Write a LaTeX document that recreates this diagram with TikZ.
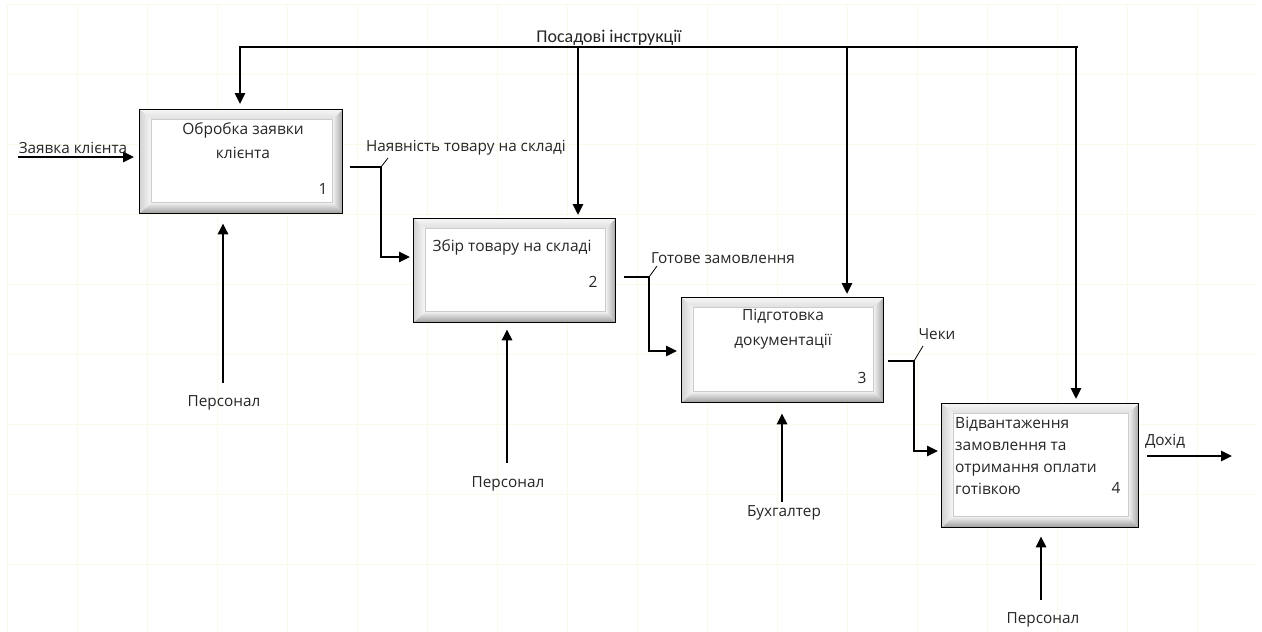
\documentclass[tikz,border=0pt]{standalone}
\usepackage{fontspec}
\setmainfont{Open Sans}
\newfontfamily\calib{Carlito}
\usetikzlibrary{arrows.meta,calc}
\definecolor{gridc}{RGB}{250,250,234}
\tikzset{
  gridline/.style={draw=gridc, line width=1pt},
  idefbox/.style={draw=black, line width=1.3pt, fill=white, anchor=north west, inner sep=0pt,
    path picture={
      \coordinate (sw) at (path picture bounding box.south west);
      \coordinate (se) at (path picture bounding box.south east);
      \coordinate (ne) at (path picture bounding box.north east);
      \coordinate (nw) at (path picture bounding box.north west);
      \coordinate (isw) at ([shift={(12pt,11pt)}]sw);
      \coordinate (ise) at ([shift={(-10pt,11pt)}]se);
      \coordinate (ine) at ([shift={(-10pt,-10pt)}]ne);
      \coordinate (inw) at ([shift={(12pt,-10pt)}]nw);
      \shade[top color=gray!8, bottom color=gray!25] (nw) -- (ne) -- (ine) -- (inw) -- cycle;
      \shade[left color=gray!35, right color=gray!5] (sw) -- (nw) -- (inw) -- (isw) -- cycle;
      \shade[left color=gray!10, right color=gray!70] (se) -- (ne) -- (ine) -- (ise) -- cycle;
      \shade[top color=gray!10, bottom color=gray!80] (sw) -- (se) -- (ise) -- (isw) -- cycle;
      \fill[white] (isw) rectangle (ine);
      \draw[gray!40, line width=0.7pt] (isw) rectangle (ine);
    }},
  btext/.style={font=\fontsize{15.5}{24}\selectfont, align=center, inner sep=0pt, text=black!85},
  lab/.style={font=\fontsize{15.3}{18}\selectfont, inner sep=0pt, text=black!85},
  num/.style={font=\fontsize{15.5}{18}\selectfont, inner sep=0pt, text=black!85},
  arr/.style={line width=2.6pt, -{Triangle[length=11pt,width=10pt]}},
  ctl/.style={line width=2pt},
  tick/.style={line width=0.8pt}
}
\begin{document}
\begin{tikzpicture}[x=1pt,y=-1pt]
\useasboundingbox (0,0) rectangle (1262,632);
\fill[white] (0,0) rectangle (1262,632);
% grid
\foreach \x in {7,77,...,1257} \draw[gridline] (\x,4) -- (\x,632);
\foreach \y in {4,74,...,630} \draw[gridline] (7,\y) -- (1257,\y);

% boxes
\node[idefbox, minimum width=203pt, minimum height=104pt] (b1) at (139,109) {};
\node[idefbox, minimum width=202pt, minimum height=104pt] (b2) at (413,218) {};
\node[idefbox, minimum width=202pt, minimum height=105pt] (b3) at (681,297) {};
\node[idefbox, minimum width=197pt, minimum height=124pt] (b4) at (941,403) {};

% box texts
\node[btext] (t1) at (243,141) {Обробка заявки\\клієнта};
\node[btext] (t2) at (512,247) {Збір товару на складі};
\node[btext, font=\fontsize{15.5}{25}\selectfont] (t3) at (783,329.5) {Підготовка\\документації};
\node[btext, align=left, anchor=west, font=\fontsize{15.5}{22}\selectfont] (t4) at (955,456) {Відвантаження\\замовлення та\\отримання оплати\\готівкою};
\node[num] (n1) at (323,189) {1};
\node[num] (n2) at (593,282) {2};
\node[num] (n3) at (862,378) {3};
\node[num] (n4) at (1116,488) {4};

% controls
\coordinate (cR) at (1078,47);
\coordinate (c1) at (240,47);
\coordinate (c2) at (578,47);
\coordinate (c3) at (847,47);
\coordinate (c4) at (1076,47);
\draw[ctl] (cR) -- (c1);
\draw[arr, shorten >=5pt] ([yshift=1pt]c1) -- (c1 |- b1.north);
\draw[arr, shorten >=3pt] (c2) -- (c2 |- b2.north);
\draw[arr, shorten >=3pt] (c3) -- (c3 |- b3.north);
\draw[arr, shorten >=4pt] (c4) -- (c4 |- b4.north);
\node[lab, font=\calib\fontsize{18}{20}\selectfont] (lctl) at (609,38) {Посадові інструкції};

% input
\coordinate (in0) at (18,157);
\draw[arr, shorten >=5pt] (in0) -- (in0 -| b1.west);
\node[lab] (lin) at (73,148) {Заявка клієнта};

% b1 -> b2
\coordinate (o1) at (350,167);
\coordinate (k1) at (381,257);
\draw[arr, shorten >=3pt] (o1) -| (k1) -- (k1 -| b2.west);
\coordinate (tk1) at (381,167);
\draw[tick] (tk1) -- ++(7,-9);
\node[lab] (l1) at (466,148) {Наявність товару на складі};

% b2 -> b3
\coordinate (o2) at (624,277);
\coordinate (k2) at (649,351);
\draw[arr, shorten >=4pt] (o2) -| (k2) -- (k2 -| b3.west);
\coordinate (tk2) at (649,277);
\draw[tick] (tk2) -- ++(8,-11);
\node[lab] (l2) at (723,258) {Готове замовлення};

% b3 -> b4
\coordinate (o3) at (888,361);
\coordinate (k3) at (914,451);
\draw[arr, shorten >=3pt] (o3) -| (k3) -- (k3 -| b4.west);
\coordinate (tk3) at (914,361);
\draw[tick] (tk3) -- ++(9,-15);
\node[lab] (l3) at (937,334) {Чеки};

% output
\coordinate (out4) at (1232,456);
\draw[arr] (out4 -| b4.east) ++(8,0) -- (out4);
\node[lab] (lout) at (1165,441) {Дохід};

% mechanisms
\coordinate (m1) at (223,383);
\coordinate (m2) at (507,463);
\coordinate (m3) at (782,502);
\coordinate (m4) at (1041,600);
\draw[arr, shorten >=9pt] (m1) -- (m1 |- b1.south);
\draw[arr, shorten >=6pt] (m2) -- (m2 |- b2.south);
\draw[arr, shorten >=10pt] (m3) -- (m3 |- b3.south);
\draw[arr, shorten >=8pt] (m4) -- (m4 |- b4.south);
\node[lab] (p1) at (224,403) {Персонал};
\node[lab] (p2) at (508,484) {Персонал};
\node[lab] (p3) at (784,513) {Бухгалтер};
\node[lab] (p4) at (1043,620) {Персонал};
\end{tikzpicture}
\end{document}
